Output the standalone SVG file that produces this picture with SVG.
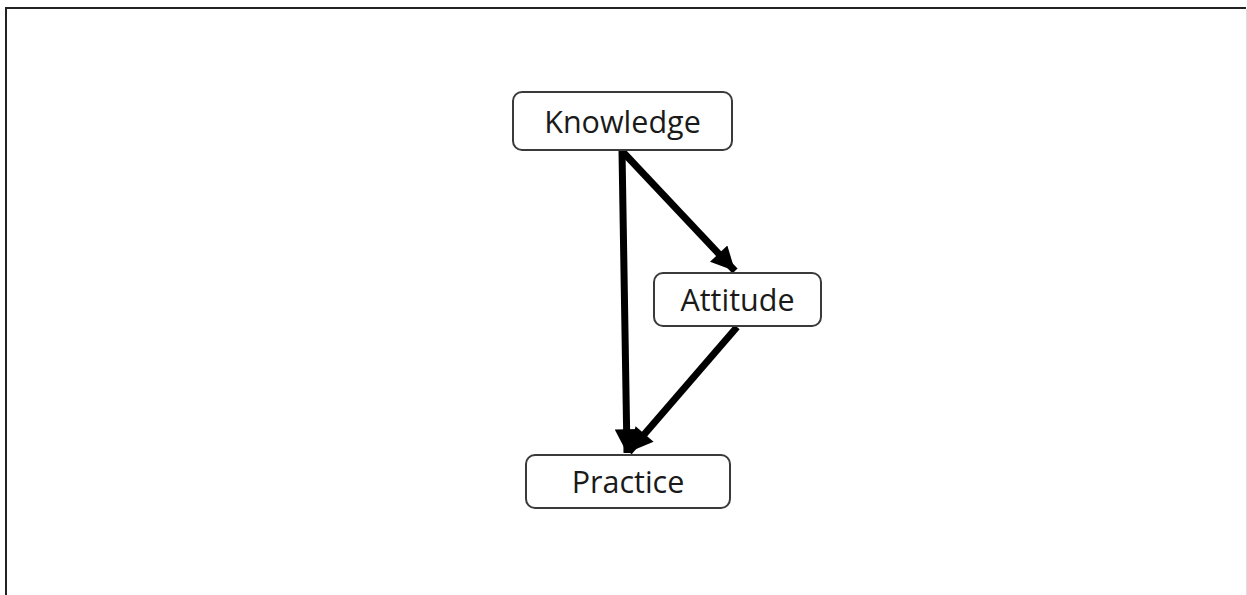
<svg xmlns="http://www.w3.org/2000/svg" width="1247" height="595" viewBox="0 0 1247 595">
<style>
.box{fill:#fff;stroke:#3a3a3a;stroke-width:2}
.lbl{font-family:"Open Sans","Noto Sans",sans-serif;font-size:30.5px;fill:#1a1a1a;text-anchor:middle}
.edge{stroke:#000;stroke-width:7;fill:none}
</style>
<defs>
<marker id="ah" viewBox="0 0 10 10" refX="10" refY="5" markerWidth="3.6" markerHeight="3.4" orient="auto" markerUnits="strokeWidth">
<path d="M0,0 L10,5 L0,10 z" fill="#000"/>
</marker>
</defs>
<rect width="1247" height="595" fill="#fff"/>
<path d="M6,595 V8 H1246" fill="none" stroke="#222" stroke-width="2"/>
<line x1="1246.5" y1="9" x2="1246.5" y2="595" stroke="#ddd" stroke-width="1"/>
<g id="connectors">
<line class="edge" x1="622" y1="151" x2="735" y2="271" marker-end="url(#ah)"/>
<line class="edge" x1="622" y1="151" x2="627" y2="453" marker-end="url(#ah)"/>
<line class="edge" x1="737" y1="327" x2="629" y2="452" marker-end="url(#ah)"/>
</g>
<g id="knowledge">
<rect class="box" x="513" y="92" width="219" height="58" rx="9"/>
<text class="lbl" x="622.5" y="133">Knowledge</text>
</g>
<g id="attitude">
<rect class="box" x="654" y="273" width="167" height="53" rx="9"/>
<text class="lbl" x="737.5" y="311">Attitude</text>
</g>
<g id="practice">
<rect class="box" x="526" y="455" width="204" height="53" rx="9"/>
<text class="lbl" x="628" y="493">Practice</text>
</g>
</svg>
